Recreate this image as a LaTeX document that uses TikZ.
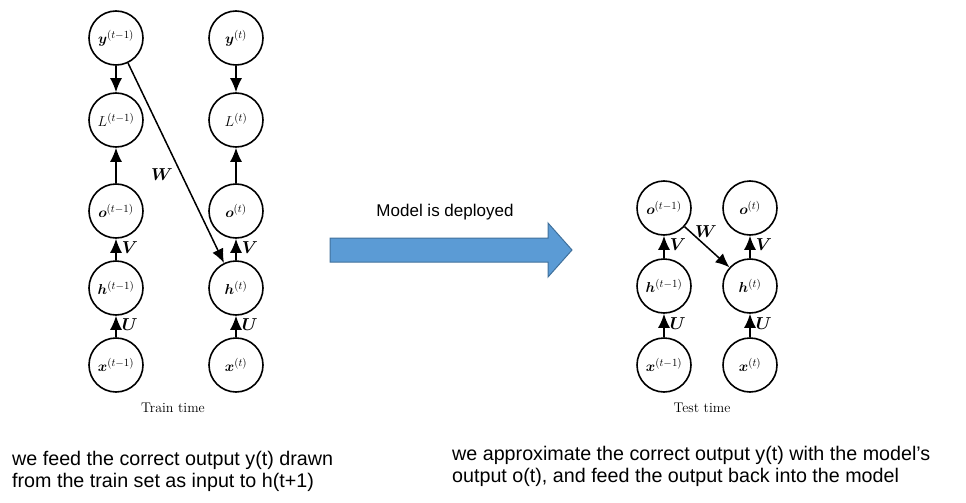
\documentclass[tikz,border=0pt]{standalone}
\usepackage{fontspec}
\usepackage{amsmath,bm}
\newfontfamily\arialfont{Liberation Sans}
\usetikzlibrary{arrows.meta}
\definecolor{arrowfill}{RGB}{91,155,213}
\definecolor{arrowedge}{RGB}{65,113,156}
\newcommand{\supx}[1]{^{\mbox{\fontsize{11}{13}\selectfont$#1$}}}
\begin{document}
\begin{tikzpicture}[x=1pt,y=-1pt,
  unit/.style={circle, draw, line width=1.6pt, minimum size=54pt, inner sep=0pt, font=\fontsize{15}{18}\selectfont},
  arr/.style={-{Latex[length=14pt,width=12pt]}, line width=1.5pt},
  lab/.style={font=\fontsize{17}{19}\selectfont, inner sep=0pt},
  captext/.style={font=\fontsize{14}{16}\selectfont},
  sans/.style={font=\arialfont\fontsize{19.7}{22}\selectfont, inner sep=0pt}
]
\useasboundingbox (0,0) rectangle (966,503);
% Train time
\node[unit] (y1) at (116,38)  {$\bm{y}\supx{(t{-}1)}$};
\node[unit] (L1) at (116,120) {$L\supx{(t{-}1)}$};
\node[unit] (o1) at (116,211) {$\bm{o}\supx{(t{-}1)}$};
\node[unit] (h1) at (116,288) {$\bm{h}\supx{(t{-}1)}$};
\node[unit] (x1) at (116,365) {$\bm{x}\supx{(t{-}1)}$};
\node[unit] (y2) at (236,38)  {$\bm{y}\supx{(t)}$};
\node[unit] (L2) at (236,120) {$L\supx{(t)}$};
\node[unit] (o2) at (236,211) {$\bm{o}\supx{(t)}$};
\node[unit] (h2) at (236,288) {$\bm{h}\supx{(t)}$};
\node[unit] (x2) at (236,365) {$\bm{x}\supx{(t)}$};
\draw[arr] (y1) -- (L1);
\draw[arr] (o1) -- (L1);
\draw[arr] (h1) -- node[pos=0.6, right=5pt, lab] {$\bm{V}$} (o1);
\draw[arr] (x1) -- node[pos=0.6, right=5pt, lab] {$\bm{U}$} (h1);
\draw[arr] (y2) -- (L2);
\draw[arr] (o2) -- (L2);
\draw[arr] (h2) -- node[pos=0.6, right=5pt, lab] {$\bm{V}$} (o2);
\draw[arr] (x2) -- node[pos=0.6, right=5pt, lab] {$\bm{U}$} (h2);
\draw[arr] (y1) -- (h2);
\node[lab] (wl) at (162,175) {$\bm{W}$};
\node[captext] (train) at (173,408) {Train time};
% Test time
\node[unit] (ro1) at (664,208) {$\bm{o}\supx{(t{-}1)}$};
\node[unit] (rh1) at (664,286) {$\bm{h}\supx{(t{-}1)}$};
\node[unit] (rx1) at (664,365) {$\bm{x}\supx{(t{-}1)}$};
\node[unit] (ro2) at (750,208) {$\bm{o}\supx{(t)}$};
\node[unit] (rh2) at (750,286) {$\bm{h}\supx{(t)}$};
\node[unit] (rx2) at (750,365) {$\bm{x}\supx{(t)}$};
\draw[arr] (rh1) -- node[pos=0.6, right=5pt, lab] {$\bm{V}$} (ro1);
\draw[arr] (rx1) -- node[pos=0.6, right=5pt, lab] {$\bm{U}$} (rh1);
\draw[arr] (rh2) -- node[pos=0.6, right=5pt, lab] {$\bm{V}$} (ro2);
\draw[arr] (rx2) -- node[pos=0.6, right=5pt, lab] {$\bm{U}$} (rh2);
\draw[arr] (ro1) -- (rh2);
\node[lab] (wr) at (706,232) {$\bm{W}$};
\node[captext] (test) at (702,408) {Test time};
% Big arrow
\draw[fill=arrowfill, draw=arrowedge, line width=1pt]
  (330,238) -- (548,238) -- (548,223) -- (572,250) -- (548,277) -- (548,262) -- (330,262) -- cycle;
\node[font=\arialfont\fontsize{17}{20}\selectfont] (dep) at (445,212) {Model is deployed};
% Bottom texts
\node[sans, anchor=base west] (t1a) at (12,465) {we feed the correct output  y(t) drawn};
\node[sans, anchor=base west] (t1b) at (12,487) {from the train set as input to h(t+1)};
\node[sans, anchor=base west] (t2a) at (452,460) {we approximate  the correct output  y(t) with the model’s};
\node[sans, anchor=base west] (t2b) at (452,482) {output o(t), and feed the output back into the model};
\end{tikzpicture}
\end{document}
